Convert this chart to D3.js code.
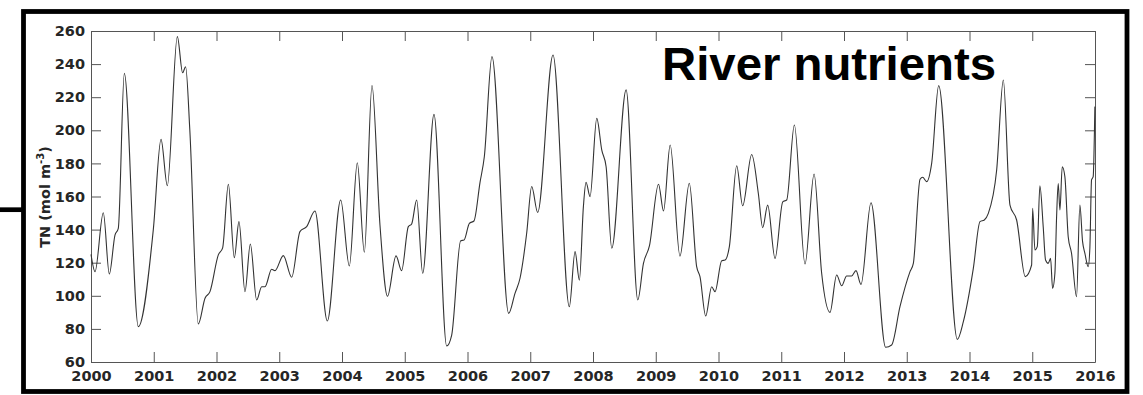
<!DOCTYPE html>
<html>
<head>
<meta charset="utf-8">
<script src="https://cdn.jsdelivr.net/npm/d3@7"></script>
<style>
  body { margin: 0; background: #fff; }
  svg { display: block; }
</style>
</head>
<body>
<div id="canvas"></div>
<script>
// decimal years and TN values (peaks, troughs, shoulders)
const years = [
  2000.0, 2000.064, 2000.196, 2000.292, 2000.382, 2000.435, 2000.531, 2000.754, 2000.993,
  2001.116, 2001.216, 2001.376, 2001.46, 2001.508, 2001.575, 2001.71, 2001.817, 2001.896,
  2002.029, 2002.098, 2002.189, 2002.284, 2002.358, 2002.454, 2002.539, 2002.64, 2002.72,
  2002.773, 2002.879, 2002.932, 2003.065, 2003.198, 2003.33, 2003.437, 2003.569, 2003.766,
  2003.979, 2004.117, 2004.244, 2004.356, 2004.478, 2004.605, 2004.725, 2004.861, 2004.95,
  2005.057, 2005.11, 2005.19, 2005.286, 2005.466, 2005.668, 2005.748, 2005.891, 2005.945,
  2006.03, 2006.103, 2006.199, 2006.268, 2006.39, 2006.656, 2006.757, 2006.837, 2006.943,
  2007.023, 2007.118, 2007.363, 2007.623, 2007.714, 2007.783, 2007.847, 2007.889, 2007.953,
  2008.06, 2008.14, 2008.209, 2008.299, 2008.528, 2008.714, 2008.804, 2008.9, 2009.044,
  2009.124, 2009.23, 2009.386, 2009.535, 2009.652, 2009.705, 2009.796, 2009.891, 2009.945,
  2010.051, 2010.104, 2010.173, 2010.29, 2010.385, 2010.529, 2010.635, 2010.704, 2010.784,
  2010.901, 2011.024, 2011.087, 2011.209, 2011.379, 2011.523, 2011.644, 2011.777, 2011.883,
  2011.963, 2012.042, 2012.122, 2012.191, 2012.271, 2012.43, 2012.664, 2012.759, 2012.892,
  2013.052, 2013.105, 2013.212, 2013.254, 2013.318, 2013.397, 2013.509, 2013.806, 2013.902,
  2014.061, 2014.167, 2014.236, 2014.3, 2014.433, 2014.539, 2014.645, 2014.751, 2014.889,
  2014.99, 2015.006, 2015.043, 2015.08, 2015.122, 2015.175, 2015.212, 2015.254, 2015.292,
  2015.324, 2015.361, 2015.388, 2015.414, 2015.441, 2015.478, 2015.52, 2015.573, 2015.626,
  2015.706, 2015.759, 2015.802, 2015.839, 2015.892, 2015.918, 2015.945, 2015.971, 2015.998
];
const tn = [
  125, 114.6, 150.2, 113.2, 136.7, 140.8, 234.4, 81.4, 140,
  194.5, 166.5, 256.6, 234.8, 238.4, 200, 83, 98.5, 102.5,
  124.7, 129, 167.4, 123, 144.8, 102.5, 131.3, 97.5, 105.5,
  105.5, 116, 115.2, 124.3, 111.2, 138.8, 141.8, 151.2, 84.8,
  157.9, 118, 180.4, 126.3, 227, 142.8, 99.7, 124.1, 115.2,
  141.8, 143.4, 157.9, 113.6, 209.6, 69.7, 76.3, 133.3, 133.7,
  143.8, 145.2, 168.4, 184, 244.5, 89.4, 101.5, 110.6, 137.8,
  166, 150.4, 245.5, 93.4, 126.7, 109.5, 153.9, 168.6, 159.9,
  207.2, 188, 178, 128.7, 224.4, 97.5, 119.6, 130.3, 167.4,
  151.2, 191.1, 124, 168, 117.6, 111.6, 87.8, 105.5, 102.5,
  121.2, 121.6, 129.7, 178.6, 154.4, 185.4, 161.8, 141.2, 154.8,
  122.6, 156.8, 157.9, 203.2, 119.2, 173.6, 113.6, 90, 112.6,
  106.1, 112, 112, 115.2, 106.9, 156.2, 68.9, 70.3, 93.4,
  114.6, 119.6, 170.4, 171.6, 169, 180, 227, 73.7, 84.4,
  116.6, 144.8, 145.8, 149.8, 176, 230.4, 154.8, 145.8, 111.6,
  118.6, 152.8, 127.7, 129.7, 166.5, 141.6, 121.6, 119.6, 122.6,
  104.5, 113.6, 147.8, 167.9, 151.8, 178, 172, 135.7, 125.7,
  99.5, 154.8, 132.7, 125.7, 117.6, 128.7, 170, 172, 214.3
];
const yearTicks = d3.range(2000, 2017);
const tnTicks = d3.range(60, 261, 20);
const title = "River nutrients";

const width = 1143;
const height = 395;
const margin = { top: 31, left: 91, bottom: 33, right: 48 };
const iwidth = width - margin.left - margin.right;
const iheight = height - margin.top - margin.bottom;

const svg = d3.select("#canvas").append("svg")
  .attr("width", width)
  .attr("height", height);

// outer panel frame and the connector stub on the left
svg.append("rect")
  .attr("x", 23.5).attr("y", 11.5)
  .attr("width", 1103.5).attr("height", 380)
  .attr("fill", "none").attr("stroke", "#000").attr("stroke-width", 4.8);
svg.append("line")
  .attr("x1", 0).attr("x2", 22).attr("y1", 209.7).attr("y2", 209.7)
  .attr("stroke", "#000").attr("stroke-width", 4.7);

const g = svg.append("g").attr("transform", `translate(${margin.left},${margin.top})`);

const x = d3.scaleLinear().domain([2000, 2016]).range([0, iwidth]);
const y = d3.scaleLinear().domain([60, 260]).range([iheight, 0]);

const fontTick = "'DejaVu Sans', sans-serif";

const styleAxis = sel => {
  sel.select(".domain").attr("stroke", "#555").attr("stroke-width", 1);
  sel.selectAll(".tick line").attr("stroke", "#555").attr("stroke-width", 1);
  sel.selectAll(".tick text")
    .attr("fill", "#262626")
    .style("font-family", fontTick)
    .style("font-weight", "bold")
    .style("font-size", "14.5px");
};

g.append("g")
  .attr("transform", `translate(0,${iheight})`)
  .call(d3.axisBottom(x).tickValues(yearTicks).tickFormat(d3.format("d"))
    .tickSizeInner(-10).tickSizeOuter(0).tickPadding(9))
  .call(styleAxis);

g.append("g")
  .call(d3.axisTop(x).tickValues(yearTicks).tickFormat("")
    .tickSizeInner(-10).tickSizeOuter(0))
  .call(styleAxis);

g.append("g")
  .call(d3.axisLeft(y).tickValues(tnTicks)
    .tickSizeInner(-10).tickSizeOuter(0).tickPadding(6))
  .call(styleAxis);

g.append("g")
  .attr("transform", `translate(${iwidth},0)`)
  .call(d3.axisRight(y).tickValues(tnTicks).tickFormat("")
    .tickSizeInner(-10).tickSizeOuter(0))
  .call(styleAxis);

const line = d3.line()
  .x((d, i) => x(years[i]))
  .y(d => y(d))
  .curve(d3.curveMonotoneX);

g.append("path")
  .datum(tn)
  .attr("fill", "none")
  .attr("stroke", "#333")
  .attr("stroke-width", 1.1)
  .attr("d", line);

// y label
const ylab = svg.append("text")
  .attr("transform", "translate(50,197) rotate(-90)")
  .attr("text-anchor", "middle")
  .attr("fill", "#262626")
  .style("font-family", fontTick)
  .style("font-weight", "bold")
  .style("font-size", "14.5px");
ylab.append("tspan").text("TN (mol m");
ylab.append("tspan").attr("dy", -6).style("font-size", "10px").text("-3");
ylab.append("tspan").attr("dy", 6).text(")");

// panel title
svg.append("text")
  .attr("x", 662).attr("y", 80)
  .attr("textLength", 334)
  .attr("lengthAdjust", "spacingAndGlyphs")
  .attr("fill", "#000")
  .style("font-family", "'Liberation Sans', Arial, sans-serif")
  .style("font-weight", "bold")
  .style("font-size", "46px")
  .text(title);
</script>
</body>
</html>
